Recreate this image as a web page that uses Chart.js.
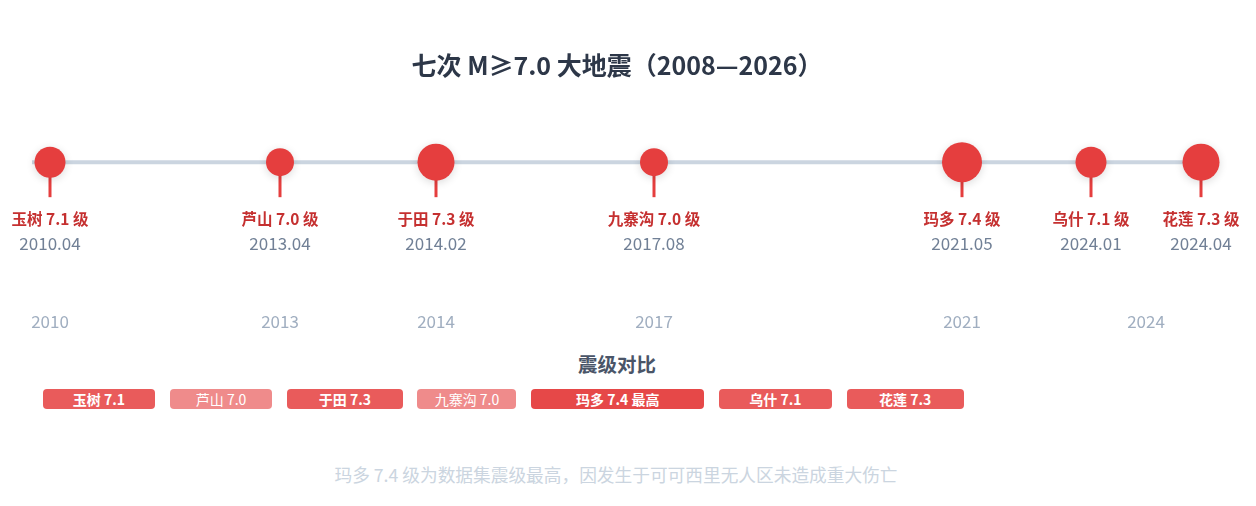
<!DOCTYPE html>
<html>
<head>
<meta charset="utf-8">
<script src="https://cdn.jsdelivr.net/npm/chart.js@4.4.1/dist/chart.umd.min.js"></script>
<style>
  html,body{margin:0;padding:0;background:#ffffff;}
  body{font-family:"Noto Sans CJK SC","Noto Sans",sans-serif;}
  #wrap{position:relative;width:1256px;height:506px;overflow:hidden;}
  #c{position:absolute;left:0;top:0;}
  #cmpTitle{position:absolute;top:351.5px;left:0;width:1234px;text-align:center;font-size:19.5px;line-height:24px;font-weight:700;color:#4a5568;}
  #pills{position:absolute;top:389px;left:42.7px;display:flex;gap:14.6px;}
  .pill{height:20px;line-height:20px;border-radius:4px;color:#ffffff;font-size:14px;text-align:center;white-space:nowrap;}
  #note{position:absolute;top:464px;left:0;width:1232px;text-align:center;font-size:17.7px;line-height:21.6px;color:#cbd5e0;}
</style>
</head>
<body>
<div id="wrap">
  <canvas id="c" width="1256" height="345"></canvas>
  <div id="cmpTitle"></div>
  <div id="pills"></div>
  <div id="note"></div>
</div>
<script>
// ---- data ----
const titleText = '七次 M≥7.0 大地震（2008—2026）';
const names = ['玉树', '芦山', '于田', '九寨沟', '玛多', '乌什', '花莲'];
const magnitudes = [7.1, 7.0, 7.3, 7.0, 7.4, 7.1, 7.3];
const dates = ['2010.04', '2013.04', '2014.02', '2017.08', '2021.05', '2024.01', '2024.04'];
const yearLabels = ['2010', '2013', '2014', '2017', '2021', '2024'];
const compareTitle = '震级对比';
const maxTag = '最高';
const noteText = '玛多 7.4 级为数据集震级最高，因发生于可可西里无人区未造成重大伤亡';

// ---- layout (timeline slot of each event along the axis; pill widths) ----
const slot = [0, 230, 386, 604, 912, 1041, 1151];
const pillWidths = [112.6, 102.4, 116, 99, 173.3, 113, 117.3];

const RED = '#e53e3e';
const FONT = '"Noto Sans CJK SC", "Noto Sans", sans-serif';
const maxMag = Math.max(...magnitudes);
const radiusOf = m => 14 + (m - 7.0) * 15;

// year tick positions: mean slot of events in that year
const yearTicks = yearLabels.map(y => {
  const idx = dates.map((d, i) => d.startsWith(y) ? i : -1).filter(i => i >= 0);
  return idx.reduce((s, i) => s + slot[i], 0) / idx.length;
});

const points = magnitudes.map((m, i) => ({x: slot[i], y: 0, mag: m}));

const PAD_L = 20, PAD_R = 42;           // title centred at 617
const X_MIN = -(50 - PAD_L);            // slot 0 sits at 50px
const X_MAX = (1256 - PAD_R) - 50;

const timelinePlugin = {
  id: 'timeline',
  beforeDatasetsDraw(chart) {
    const {ctx, scales} = chart;
    const y0 = scales.y.getPixelForValue(0);
    ctx.save();
    ctx.strokeStyle = '#cbd5e0';
    ctx.lineWidth = 4;
    ctx.beginPath();
    ctx.moveTo(scales.x.getPixelForValue(slot[0]) - 18, y0);
    ctx.lineTo(scales.x.getPixelForValue(slot[slot.length - 1]) + 17, y0);
    ctx.stroke();
    ctx.strokeStyle = RED;
    ctx.lineWidth = 3;
    points.forEach(p => {
      const x = scales.x.getPixelForValue(p.x);
      ctx.beginPath();
      ctx.moveTo(x, y0 + radiusOf(p.mag) - 2);
      ctx.lineTo(x, y0 + 35);
      ctx.stroke();
    });
    ctx.restore();
  },
  beforeDatasetDraw(chart) {
    const ctx = chart.ctx;
    ctx.save();
    ctx.shadowColor = 'rgba(0,0,0,0.14)';
    ctx.shadowBlur = 8;
    ctx.shadowOffsetY = 2;
  },
  afterDatasetDraw(chart) {
    chart.ctx.restore();
  },
  afterDatasetsDraw(chart) {
    const {ctx, scales} = chart;
    const y0 = scales.y.getPixelForValue(0);
    ctx.save();
    ctx.textAlign = 'center';
    ctx.textBaseline = 'middle';
    points.forEach((p, i) => {
      const x = scales.x.getPixelForValue(p.x);
      ctx.font = '700 15.5px ' + FONT;
      ctx.fillStyle = '#c53030';
      ctx.fillText(names[i] + ' ' + magnitudes[i].toFixed(1) + ' 级', x, y0 + 57);
      ctx.font = '400 17px ' + FONT;
      ctx.fillStyle = '#718096';
      ctx.fillText(dates[i], x, y0 + 81);
    });
    ctx.restore();
  }
};

new Chart(document.getElementById('c'), {
  type: 'scatter',
  data: {
    datasets: [{
      data: points,
      backgroundColor: RED,
      borderWidth: 0,
      pointRadius: c => radiusOf(magnitudes[c.dataIndex]),
      pointHoverRadius: c => radiusOf(magnitudes[c.dataIndex]),
      clip: false
    }]
  },
  options: {
    responsive: false,
    animation: false,
    devicePixelRatio: 1,
    layout: {padding: {left: PAD_L, right: PAD_R, top: 0, bottom: 10}},
    plugins: {
      legend: {display: false},
      tooltip: {enabled: false},
      title: {
        display: true,
        text: titleText,
        color: '#2d3748',
        font: {family: FONT, size: 25, weight: '700'},
        padding: {top: 50, bottom: 20}
      }
    },
    scales: {
      x: {
        type: 'linear',
        min: X_MIN,
        max: X_MAX,
        grid: {display: false, drawTicks: false},
        border: {display: false},
        afterBuildTicks: axis => { axis.ticks = yearTicks.map(v => ({value: v})); },
        ticks: {
          autoSkip: false,
          maxRotation: 0,
          padding: 3,
          color: '#a0aec0',
          font: {family: FONT, size: 17},
          callback: (v, i) => yearLabels[i]
        }
      },
      y: {
        display: false,
        min: -146,
        max: 62
      }
    }
  },
  plugins: [timelinePlugin]
});

// ---- comparison pills ----
document.getElementById('cmpTitle').textContent = compareTitle;
const pillsEl = document.getElementById('pills');
magnitudes.forEach((m, i) => {
  const d = document.createElement('div');
  d.className = 'pill';
  d.style.width = pillWidths[i] + 'px';
  const alpha = m === maxMag ? 0.95 : (m > 7.0 ? 0.85 : 0.6);
  d.style.background = `rgba(229,62,62,${alpha})`;
  d.style.fontWeight = m > 7.0 ? '700' : '400';
  d.textContent = names[i] + ' ' + m.toFixed(1) + (m === maxMag ? ' ' + maxTag : '');
  pillsEl.appendChild(d);
});
document.getElementById('note').textContent = noteText;
</script>
</body>
</html>
